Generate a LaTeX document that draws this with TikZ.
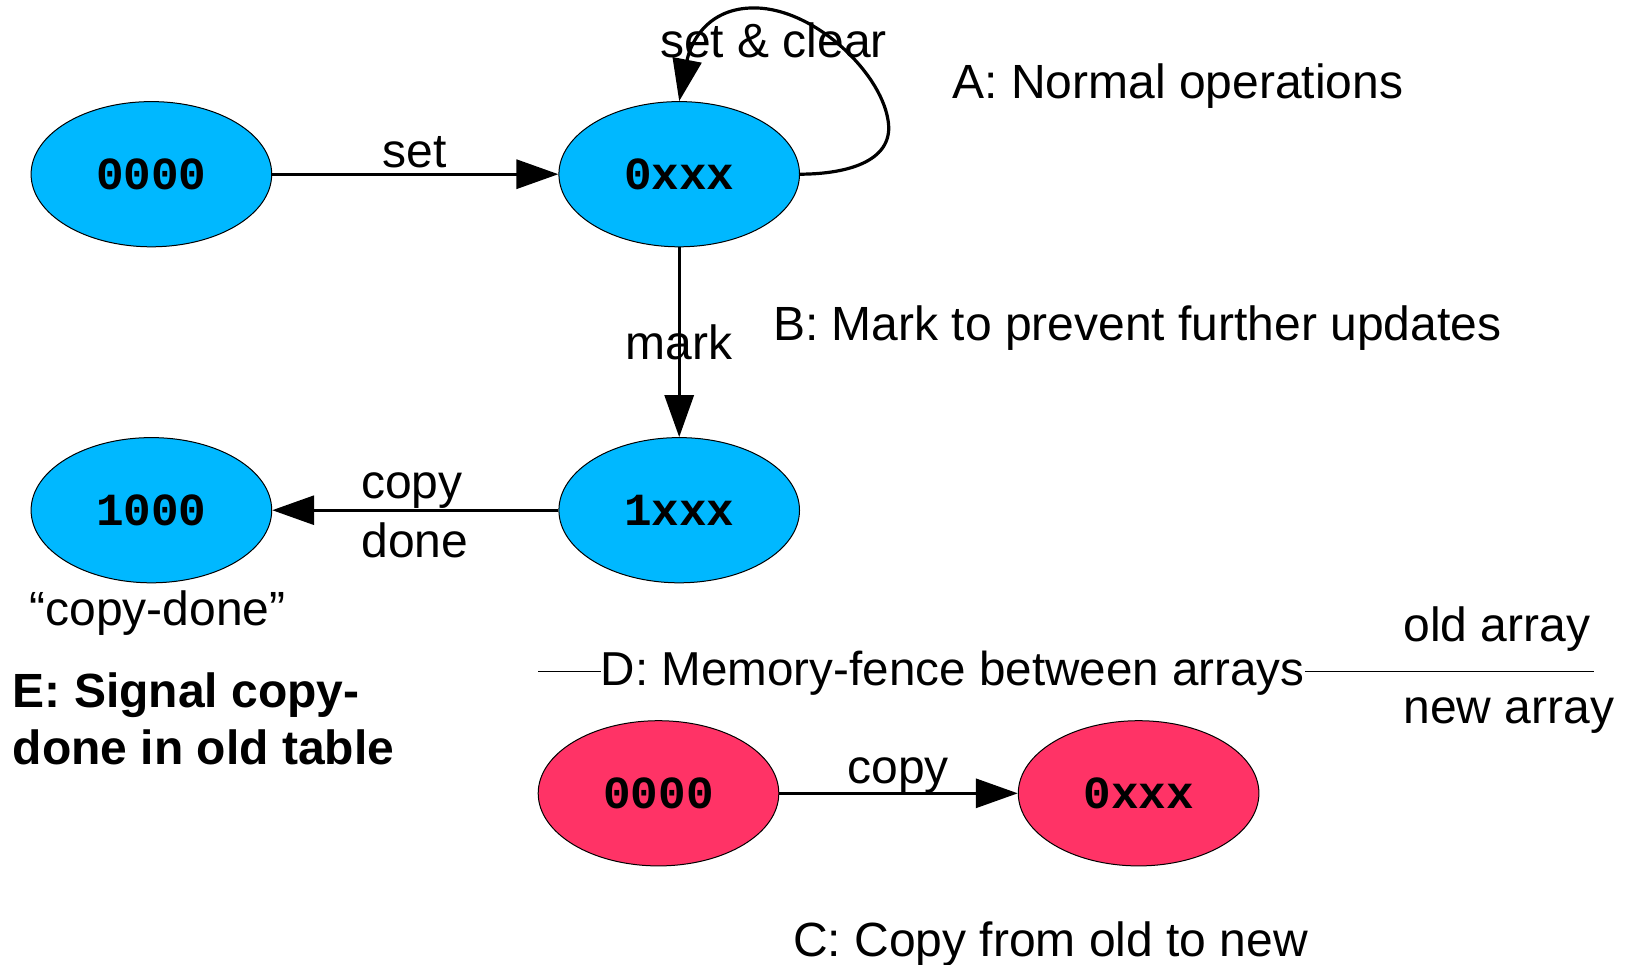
\documentclass[tikz,border=0pt]{standalone}
\usepackage{fontspec}
\setmainfont{Liberation Sans}
\newfontfamily\statefont{Liberation Mono}
\usetikzlibrary{arrows.meta,shapes.geometric}
\definecolor{oldcol}{HTML}{00B8FF}
\definecolor{newcol}{HTML}{FF3366}
\tikzset{
  state/.style={ellipse,draw=black,line width=0.5pt,minimum width=120.3pt,minimum height=72.6pt,inner sep=0pt,
    font=\statefont\bfseries\fontsize{23}{26}\selectfont},
  oldstate/.style={state,fill=oldcol},
  newstate/.style={state,fill=newcol},
  edge/.style={line width=1.6pt,-{Triangle[length=21pt,width=14.5pt]}},
  lbl/.style={font=\fontsize{24}{28}\selectfont,inner sep=0pt},
  fence/.style={line width=0.5pt}
}
\begin{document}
\begin{tikzpicture}[x=0.5pt,y=-0.5pt]
\useasboundingbox (0,0) rectangle (1626,964);

% old array states
\node[oldstate] (a) at (151.4,174.2) {0000};
\node[oldstate] (b) at (679.2,174.2) {0xxx};
\node[oldstate] (c) at (679.2,510.2) {1xxx};
\node[oldstate] (d) at (151.4,510.2) {1000};

% new array states
\node[newstate] (e) at (658.5,793.3) {0000};
\node[newstate] (f) at (1138.6,793.3) {0xxx};

% transitions
\draw[edge] (a.east) -- (b.west);
\draw[edge] (b.east) .. controls (850,174) and (895,160) .. (888,120)
  .. controls (880,70) and (810,5) .. (750,8)
  .. controls (705,10) and (690,45) .. (b.north);
\draw[edge] (b.south) -- (c.north);
\draw[edge] (c.west) -- (d.east);
\draw[edge] (e.east) -- (f.west);

% edge labels
\node[lbl,anchor=base] (lset) at (414.8,167) {set};
\node[lbl,anchor=base] (lsetclear) at (773.6,57) {set \& clear};
\node[lbl,anchor=base] (lmark) at (679.2,359) {mark};
\node[lbl,anchor=base] (lcopy) at (411.7,498) {copy};
\node[lbl,anchor=base] (ldone) at (414.8,557) {done};
\node[lbl,anchor=base] (lcopynew) at (898,783) {copy};
\node[lbl,anchor=base] (lcopydone) at (157.6,625) {“copy-done”};

% step descriptions
\node[lbl,anchor=base west] (stepA) at (952,98.5) {A: Normal operations};
\node[lbl,anchor=base west] (stepB) at (772.6,340) {B: Mark to prevent further updates};
\node[lbl,anchor=base] (stepC) at (1050.5,956) {C: Copy from old to new};
\node[lbl,anchor=base west,font=\bfseries\fontsize{24}{28.5}\selectfont,align=left] (stepE) at (12.4,764)
  {E: Signal copy-\\done in old table};

% memory fence between the arrays
\node[lbl,anchor=base west,font=\fontsize{23.8}{28}\selectfont] (stepD) at (600.5,685.5) {D: Memory-fence between arrays};
\coordinate (fenceL) at (538,671);
\coordinate (fenceR) at (1594,671);
\draw[fence] (fenceL) -- (stepD.west |- fenceL);
\draw[fence] (stepD.east |- fenceR) -- (fenceR);
\node[lbl,anchor=base west] (oldarr) at (1403,641) {old array};
\node[lbl,anchor=base west] (newarr) at (1403,723) {new array};
\end{tikzpicture}
\end{document}
